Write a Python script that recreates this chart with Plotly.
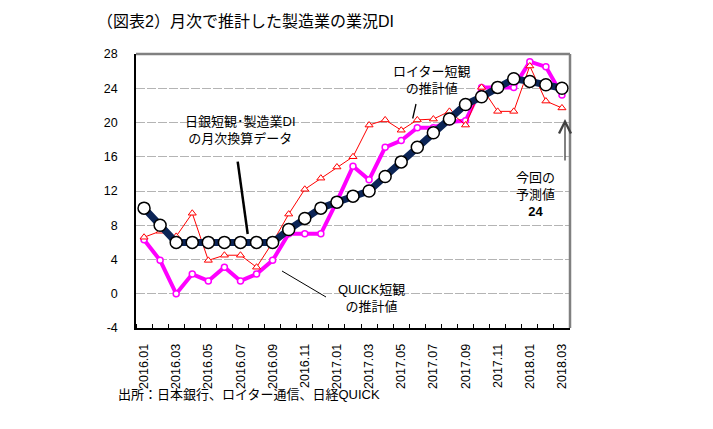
import plotly.graph_objects as go

months = ["2016.01", "2016.02", "2016.03", "2016.04", "2016.05", "2016.06", "2016.07",
          "2016.08", "2016.09", "2016.10", "2016.11", "2016.12", "2017.01", "2017.02",
          "2017.03", "2017.04", "2017.05", "2017.06", "2017.07", "2017.08", "2017.09",
          "2017.10", "2017.11", "2017.12", "2018.01", "2018.02", "2018.03"]

boj_monthly = [10.0, 8.0, 6.0, 6.0, 6.0, 6.0, 6.0, 6.0, 6.0, 7.5, 8.8, 10.0, 10.7, 11.4,
               12.0, 13.7, 15.4, 17.1, 18.8, 20.4, 22.1, 23.0, 24.1, 25.1, 24.8, 24.4, 24.0]
quick_est = [6.3, 3.9, 0.0, 2.3, 1.5, 3.1, 1.5, 2.3, 3.9, 7.0, 7.0, 7.0, 10.8, 14.9,
             13.3, 17.1, 17.9, 19.4, 19.4, 20.1, 20.2, 24.1, 24.1, 24.1, 27.1, 26.5, 23.2]
reuters_est = [6.6, 7.3, 6.7, 9.4, 3.9, 4.5, 4.5, 3.1, 6.0, 9.3, 12.2, 13.5, 14.8, 16.0,
               19.7, 20.3, 19.1, 20.3, 20.4, 21.3, 19.7, 24.1, 21.3, 21.3, 26.6, 22.5, 21.7]

y_ticks = [-4, 0, 4, 8, 12, 16, 20, 24, 28]
y_ticktext = ["-4", "0", "4", "8", "12", "16", "20", "24", "28"]

x_idx = list(range(len(months)))
label_idx = x_idx[::2]
label_text = [months[i] for i in label_idx]

FONT = "Liberation Sans, Arial, Noto Sans CJK JP, sans-serif"
OFF = 8  # default page body margin
PW, PH = 713, 429
W, H = PW - OFF, PH - OFF
L, R, T, B = 136, 570, 54, 328  # plot area in page pixels


def px(xp):
    return (xp - L) / (R - L)


def py(yp):
    return (B - yp) / (B - T)


fig = go.Figure()

fig.add_trace(go.Scatter(
    x=x_idx, y=quick_est, mode="lines+markers", name="QUICK",
    line=dict(color="#ff00ff", width=4),
    marker=dict(symbol="circle", size=6, color="white",
                line=dict(color="#ff00ff", width=1.5)),
))
fig.add_trace(go.Scatter(
    x=x_idx, y=reuters_est, mode="lines+markers", name="Reuters",
    line=dict(color="#ff0000", width=1),
    marker=dict(symbol="triangle-up", size=7, color="white",
                line=dict(color="#ff0000", width=1)),
))
fig.add_trace(go.Scatter(
    x=x_idx, y=boj_monthly, mode="lines+markers", name="BOJ",
    line=dict(color="#0c2557", width=7),
    marker=dict(symbol="circle", size=12, color="white",
                line=dict(color="black", width=1.5)),
))

annotations = [
    dict(text="日銀短観･製造業DI<br>の月次換算データ", x=px(240), y=py(130),
         font=dict(size=13)),
    dict(text="ロイター短観<br>の推計値", x=px(431), y=py(80), font=dict(size=13)),
    dict(text="QUICK短観<br>の推計値", x=px(371), y=py(298), font=dict(size=13)),
    dict(text="今回の<br>予測値<br><b>24</b>", x=px(535), y=py(194), font=dict(size=13)),
    dict(text="出所：日本銀行、ロイター通信、日経QUICK", x=px(116), y=py(394),
         xanchor="left", font=dict(size=13)),
]
for a in annotations:
    a.setdefault("xanchor", "center")
    a.update(xref="paper", yref="paper", yanchor="middle", showarrow=False, align="center")
    a["font"].update(family=FONT, color="black")

annotations.append(dict(
    x=px(565), y=py(119), xref="paper", yref="paper", text="", showarrow=True,
    ax=0, ay=43, arrowhead=5, arrowsize=1.8, arrowwidth=1.3, arrowcolor="#404040",
))

shapes = [
    dict(type="line", xref="paper", yref="paper", x0=px(237.7), y0=py(161.7),
         x1=px(247.7), y1=py(234), line=dict(color="black", width=2.5)),
    dict(type="line", xref="paper", yref="paper", x0=px(416), y0=py(104),
         x1=px(412.7), y1=py(118.5), line=dict(color="black", width=1.3)),
    dict(type="line", xref="paper", yref="paper", x0=px(282), y0=py(271),
         x1=px(326), y1=py(297), line=dict(color="black", width=1)),
    dict(type="line", xref="paper", yref="paper", x0=0, y0=1, x1=1, y1=1,
         line=dict(color="#808080", width=2.5)),
    dict(type="line", xref="paper", yref="paper", x0=1, y0=0, x1=1, y1=1,
         line=dict(color="#808080", width=2.5)),
]

fig.update_layout(
    width=W, height=H,
    margin=dict(l=L - OFF, r=PW - R, t=T - OFF, b=PH - B),
    paper_bgcolor="white", plot_bgcolor="white",
    showlegend=False,
    font=dict(family=FONT, color="black"),
    title=dict(text="（図表2）月次で推計した製造業の業況DI", x=(97 - OFF) / W, xanchor="left",
               y=1 - (21 - OFF) / H, yanchor="middle", xref="container", yref="container",
               font=dict(size=16, family=FONT, color="black")),
    annotations=annotations,
    shapes=shapes,
)

fig.update_xaxes(
    range=[-0.5, len(months) - 0.5],
    tickmode="array", tickvals=label_idx, ticktext=label_text,
    tickangle=-90, ticks="", ticklabelstandoff=9,
    tickfont=dict(size=12.5, family=FONT, color="black"),
    showgrid=False, zeroline=False,
    showline=True, linecolor="black", linewidth=1.5,
    minor=dict(tickmode="linear", tick0=0.5, dtick=1, ticks="inside", ticklen=4,
               tickcolor="black", tickwidth=1, showgrid=False),
)
fig.update_yaxes(
    range=[-4, 28], tickmode="array", tickvals=y_ticks, ticktext=y_ticktext,
    ticks="", ticklabelstandoff=14,
    tickfont=dict(size=12.5, family=FONT, color="black"),
    showgrid=True, gridcolor="#b4b4b4", gridwidth=1, griddash="9px,2px",
    zeroline=False,
    showline=True, linecolor="black", linewidth=1.5,
)

fig.write_html("out.html")
